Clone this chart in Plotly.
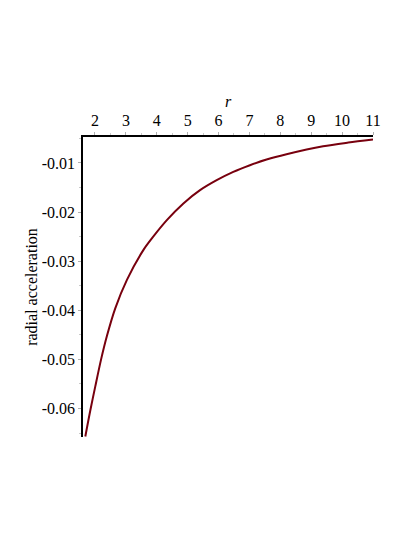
import plotly.graph_objects as go

# ----------------------------------------------------------------------------------------------------------------------
# Data
# ----------------------------------------------------------------------------------------------------------------------
r_vals = [1.687, 1.848, 2.010, 2.194, 2.388, 2.656, 3.034, 3.570, 3.841, 4.326, 4.862, 5.401, 5.940,
          6.477, 7.016, 7.555, 8.201, 9.384, 10.2, 11.0]
accel_vals = [-0.0657, -0.0604, -0.0555, -0.0501, -0.0452, -0.0396, -0.0338, -0.0277, -0.02537, -0.02165,
              -0.01825, -0.01555, -0.01352, -0.01183, -0.01047, -0.00931, -0.00823, -0.00661, -0.00586,
              -0.00524]

x_ticks = [2, 3, 4, 5, 6, 7, 8, 9, 10, 11]
y_ticks = [-0.01, -0.02, -0.03, -0.04, -0.05, -0.06]
y_tick_labels = ["-0.01", "-0.02", "-0.03", "-0.04", "-0.05", "-0.06"]

# ----------------------------------------------------------------------------------------------------------------------
# Figure
# ----------------------------------------------------------------------------------------------------------------------
font_main = "Liberation Serif"

fig = go.Figure()
fig.add_trace(go.Scatter(x=r_vals, y=accel_vals, mode="lines",
                         line=dict(color="#78000E", width=2, shape="spline", smoothing=0.8),
                         showlegend=False, hoverinfo="skip"))

# page body adds ~8px offset, margins compensate for it
fig.update_layout(width=415, height=537, margin=dict(l=75, r=50, t=129, b=108),
                  paper_bgcolor="white", plot_bgcolor="white",
                  font=dict(family=font_main, size=16, color="black"))

# x axis sits on top
fig.update_xaxes(side="top", range=[1.612, 11.0], tickvals=x_ticks, showgrid=False, zeroline=False,
                 automargin=False,
                 showline=True, linecolor="black", linewidth=1.5,
                 ticks="outside", ticklen=3, tickcolor="#b0b0b0", tickwidth=1,
                 minor=dict(ticks="outside", ticklen=2, tickcolor="#c8c8c8", dtick=0.5),
                 title=dict(text="<i>r</i>", standoff=0, font=dict(size=16)))

fig.update_yaxes(range=[-0.0658, -0.00472], tickvals=y_ticks, ticktext=y_tick_labels,
                 showgrid=False, zeroline=False, automargin=False,
                 showline=True, linecolor="black", linewidth=1.5,
                 ticks="outside", ticklen=3, tickcolor="#b0b0b0", tickwidth=1,
                 minor=dict(ticks="outside", ticklen=2, tickcolor="#c8c8c8", dtick=0.005),
                 title=dict(text="radial acceleration", standoff=0, font=dict(size=16)))

fig.write_html("out.html")
